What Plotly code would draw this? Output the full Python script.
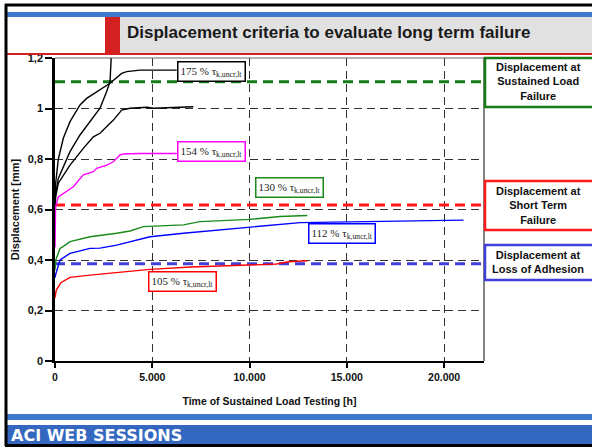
import plotly.graph_objects as go

# ---------------- data ----------------
x_ticks = [0, 5000, 10000, 15000, 20000]
x_tick_labels = ["0", "5.000", "10.000", "15.000", "20.000"]
y_ticks = [0, 0.2, 0.4, 0.6, 0.8, 1.0, 1.2]
y_tick_labels = ["0", "0,2", "0,4", "0,6", "0,8", "1", "1,2"]

# 175 % curves (three specimens, black)
blk1_x = [0, 30, 170, 427, 771, 1285, 1627, 2140, 2827, 3427, 3685, 4370, 6255]
blk1_y = [0.60, 0.70, 0.80, 0.882, 0.948, 1.014, 1.040, 1.067, 1.100, 1.139, 1.146, 1.152, 1.152]
blk2_x = [0, 30, 170, 771, 1285, 1800, 2313, 2657, 2827, 2880, 2900]
blk2_y = [0.60, 0.66, 0.723, 0.829, 0.895, 0.948, 1.001, 1.067, 1.106, 1.185, 1.26]
blk3_x = [0, 30, 170, 771, 1455, 1970, 2313, 3000, 3427, 3855, 4713, 5055, 5740, 7110]
blk3_y = [0.60, 0.65, 0.704, 0.776, 0.842, 0.888, 0.902, 0.954, 0.994, 1.001, 1.005, 1.001, 1.003, 1.007]

# 154 %
mag_x = [0, 30, 170, 427, 941, 1455, 1970, 2140, 2657, 3000, 3340, 3510, 4370, 6255]
mag_y = [0.45, 0.611, 0.65, 0.664, 0.69, 0.737, 0.75, 0.763, 0.776, 0.789, 0.816, 0.82, 0.822, 0.822]

# 130 %
grn_x = [0, 40, 257, 411, 771, 1800, 3170, 3855, 4540, 6600, 7450, 10020, 11560, 12970]
grn_y = [0.36, 0.40, 0.446, 0.453, 0.473, 0.492, 0.506, 0.515, 0.532, 0.539, 0.552, 0.561, 0.572, 0.576]

# 112 %
blu_x = [0, 50, 257, 771, 1800, 2313, 3170, 4880, 6600, 7450, 10020, 12600, 21000]
blu_y = [0.33, 0.347, 0.40, 0.426, 0.446, 0.447, 0.459, 0.492, 0.506, 0.512, 0.530, 0.548, 0.558]

# 105 %
red_x = [0, 60, 300, 771, 1800, 4880, 7000, 10020, 11390, 12000, 12970]
red_y = [0.25, 0.28, 0.31, 0.331, 0.34, 0.363, 0.372, 0.380, 0.384, 0.393, 0.397]

# criteria lines
crit_x = [0, 22000]
crit_sustained = 1.106
crit_short = 0.618
crit_adhesion = 0.385

curve_labels = ["175 % τ<sub>k,uncr,lt</sub>", "154 % τ<sub>k,uncr,lt</sub>",
                "130 % τ<sub>k,uncr,lt</sub>", "112 % τ<sub>k,uncr,lt</sub>",
                "105 % τ<sub>k,uncr,lt</sub>"]
box_texts = ["Displacement at<br>Sustained Load<br>Failure",
             "Displacement at<br>Short Term<br>Failure",
             "Displacement at<br>Loss of Adhesion"]

title_text = "Displacement criteria to evaluate long term failure"

# ---------------- layout helpers ----------------
W, H = 592, 447
L, R, T, B = 55, 484, 58, 361


def px(x):
    return (x - L) / (R - L)


def py(y):
    return (B - y) / (B - T)


GREEN = "#167a16"
RED = "#ff1a1a"
BLUE = "#4040d8"
SANS = "Arial, Liberation Sans, sans-serif"
SERIF = "Times New Roman, Liberation Serif, serif"

fig = go.Figure()

# criteria lines
for yv, col in [(crit_sustained, GREEN), (crit_short, RED), (crit_adhesion, BLUE)]:
    fig.add_trace(go.Scatter(x=crit_x, y=[yv, yv], mode="lines",
                             line=dict(color=col, width=3, dash="10px,6px"),
                             hoverinfo="skip", showlegend=False, cliponaxis=True))

for xs, ys, col in [(blk1_x, blk1_y, "black"), (blk2_x, blk2_y, "black"), (blk3_x, blk3_y, "black"),
                    (mag_x, mag_y, "#ff00ff"), (grn_x, grn_y, "#1a8a1a"),
                    (blu_x, blu_y, "#0000ff"), (red_x, red_y, "#ff0000")]:
    fig.add_trace(go.Scatter(x=xs, y=ys, mode="lines", line=dict(color=col, width=1.4),
                             showlegend=False))

shapes = []
# plot right/top border
shapes.append(dict(type="line", xref="paper", yref="paper", x0=1, x1=1, y0=0, y1=1,
                   line=dict(color="#333", width=1.2)))
shapes.append(dict(type="line", xref="paper", yref="paper", x0=0, x1=1, y0=1, y1=1,
                   line=dict(color="#666", width=1)))
# top blue strip
shapes.append(dict(type="rect", xref="paper", yref="paper", x0=px(6), x1=px(600), y0=py(17), y1=py(12),
                   line=dict(width=0), fillcolor="#3f78cf"))
# title bar
shapes.append(dict(type="rect", xref="paper", yref="paper", x0=px(120), x1=px(600), y0=py(53), y1=py(17),
                   line=dict(width=0), fillcolor="#e1e1e1"))
shapes.append(dict(type="rect", xref="paper", yref="paper", x0=px(105), x1=px(120), y0=py(53), y1=py(17),
                   line=dict(width=0), fillcolor="#d42020"))
shapes.append(dict(type="rect", xref="paper", yref="paper", x0=px(6), x1=px(600), y0=py(55), y1=py(53),
                   line=dict(width=0), fillcolor="#d42020"))
# bottom banner
shapes.append(dict(type="rect", xref="paper", yref="paper", x0=px(6), x1=px(600), y0=py(420), y1=py(414),
                   line=dict(width=0), fillcolor="#3f78cf"))
shapes.append(dict(type="rect", xref="paper", yref="paper", x0=px(6), x1=px(600), y0=py(444), y1=py(425),
                   line=dict(width=0), fillcolor="#3468c0"))
# outer black frame
shapes.append(dict(type="line", xref="paper", yref="paper", x0=px(6), x1=px(6), y0=py(446), y1=py(4),
                   line=dict(color="black", width=3)))
shapes.append(dict(type="line", xref="paper", yref="paper", x0=px(5), x1=px(600), y0=py(5), y1=py(5),
                   line=dict(color="black", width=3)))
shapes.append(dict(type="line", xref="paper", yref="paper", x0=px(5), x1=px(600), y0=py(445.5), y1=py(445.5),
                   line=dict(color="black", width=3)))
# right criteria boxes
for (y0, y1, col) in [(58, 107, GREEN), (181, 230, RED), (245, 280, BLUE)]:
    shapes.append(dict(type="rect", xref="paper", yref="paper", x0=px(485), x1=px(600),
                       y0=py(y1), y1=py(y0), line=dict(color=col, width=2.5), fillcolor="white"))

annotations = []
annotations.append(dict(xref="paper", yref="paper", x=px(125), y=py(32), xanchor="left", yanchor="middle",
                        text="<b>" + title_text + "</b>", showarrow=False,
                        font=dict(family=SANS, size=17, color="#1a1a1a")))
annotations.append(dict(xref="paper", yref="paper", x=px(9), y=py(435), xanchor="left", yanchor="middle",
                        text="<b>ACI WEB SESSIONS</b>", showarrow=False,
                        font=dict(family="DejaVu Sans, " + SANS, size=16, color="white")))
for txt, yc in zip(box_texts, [82, 205, 262]):
    annotations.append(dict(xref="paper", yref="paper", x=px(538), y=py(yc), xanchor="center",
                            yanchor="middle", text="<b>" + txt + "</b>", showarrow=False,
                            font=dict(family=SANS, size=11, color="#111")))
for txt, xc, yc, col in zip(curve_labels,
                            [8020, 8040, 12050, 14730, 6550],
                            [1.148, 0.828, 0.687, 0.503, 0.315],
                            ["black", "#ff00ff", "#1a8a1a", "#0000ff", "#ff0000"]):
    annotations.append(dict(x=xc, y=yc, xref="x", yref="y", text=txt, showarrow=False,
                            font=dict(family=SERIF, size=11, color="#222"),
                            bgcolor="white", bordercolor=col, borderwidth=1.5, borderpad=2))

fig.update_layout(
    width=W, height=H,
    margin=dict(l=L, r=W - R, t=T, b=H - B, pad=0),
    paper_bgcolor="white", plot_bgcolor="white",
    shapes=shapes, annotations=annotations,
    xaxis=dict(range=[0, 22050], tickvals=x_ticks,
               ticktext=["<b>" + t + "</b>" for t in x_tick_labels],
               showline=True, linecolor="black", linewidth=2,
               ticks="outside", ticklen=5, tickwidth=1.5, tickcolor="black",
               showgrid=True, gridcolor="#333", gridwidth=1, griddash="8px,5px",
               zeroline=False,
               tickfont=dict(family=SANS, size=10.5, color="#111"),
               title=dict(text="<b>Time of Sustained Load Testing [h]</b>", standoff=16,
                          font=dict(family=SANS, size=10.5, color="#111"))),
    yaxis=dict(range=[0, 1.2], tickvals=y_ticks,
               ticktext=["<b>" + t + "</b>" for t in y_tick_labels],
               showline=True, linecolor="black", linewidth=2.5,
               ticks="outside", ticklen=7, tickwidth=1.5, tickcolor="black",
               showgrid=True, gridcolor="#333", gridwidth=1, griddash="8px,5px",
               zeroline=False,
               tickfont=dict(family=SANS, size=11, color="#111"),
               title=dict(text="<b>Displacement [mm]</b>", standoff=6,
                          font=dict(family=SANS, size=11, color="#111"))),
)

fig.write_html("out.html", config={"displayModeBar": False},
               post_script="document.body.style.margin='0';document.body.style.overflow='hidden';")
